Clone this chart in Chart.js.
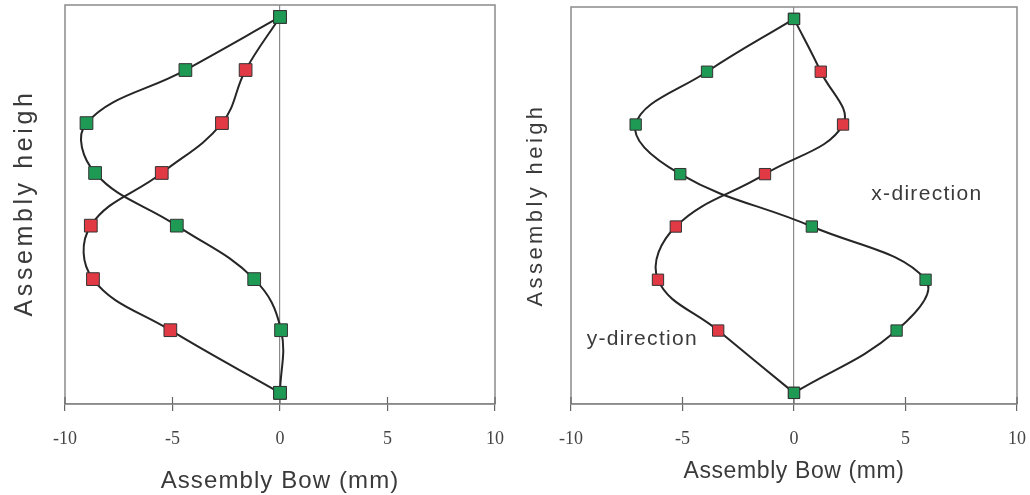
<!DOCTYPE html>
<html>
<head>
<meta charset="utf-8">
<script src="https://cdn.jsdelivr.net/npm/chart.js@4.4.1/dist/chart.umd.min.js"></script>
<style>
  html, body { margin: 0; padding: 0; background: #fff; }
  .wrap { display: flex; width: 1030px; height: 495px; }
</style>
</head>
<body>
<div class="wrap">
  <canvas id="leftChart" width="515" height="495"></canvas>
  <canvas id="rightChart" width="515" height="495"></canvas>
</div>
<script>
// Heights of the measuring points (arbitrary units, top = 100)
const heights = [97, 83.7, 70.4, 57.9, 44.7, 31.3, 18.5, 2.8];

// Left panel bow values (mm)
const leftGreen = [0, -4.4, -9.0, -8.6, -4.8, -1.2, 0.05, 0];
const leftRed = [0, -1.6, -2.7, -5.5, -8.8, -8.7, -5.1, 0];

// Right panel bow values (mm)
const rightGreen = [0, -3.9, -7.1, -5.1, 0.8, 5.9, 4.6, 0];
const rightRed = [0, 1.2, 2.2, -1.3, -5.3, -6.1, -3.4, 0];

const xTicks = [-10, -5, 0, 5, 10];

// text notes in the right panel: [label, x, height]
const rightNotes = [
  ['x-direction', 5.96, 52.9],
  ['y-direction', -6.8, 16.3],
];

const palette = {
  green: '#1f9a55',
  red: '#e23a45',
  marker: '#333333',
  line: '#262626',
  frame: '#8a8a8a',
  text: '#3a3a3a',
};

const sansFont = "'Liberation Sans', Arial, sans-serif";

function toPoints(xs) {
  return xs.map((x, i) => ({ x: x, y: heights[i] }));
}

// gray box round the plot area, crossing tick marks, and the (letter-spaced) titles
const frameAndTitles = {
  id: 'frameAndTitles',
  beforeDatasetsDraw(chart) {
    const { ctx, chartArea } = chart;
    const xs = chart.scales.x;
    ctx.save();
    ctx.strokeStyle = palette.frame;
    ctx.lineWidth = 1.5;
    ctx.strokeRect(chartArea.left, chartArea.top, chartArea.right - chartArea.left, chartArea.bottom - chartArea.top);
    ctx.strokeStyle = '#666';
    ctx.lineWidth = 1.2;
    xTicks.forEach((v) => {
      const px = xs.getPixelForValue(v);
      ctx.beginPath();
      ctx.moveTo(px, chartArea.bottom - 7);
      ctx.lineTo(px, chartArea.bottom);
      ctx.stroke();
    });
    ctx.restore();
  },
  afterDraw(chart) {
    const opts = chart.options.plugins.frameAndTitles;
    const { ctx, chartArea } = chart;
    ctx.save();
    ctx.fillStyle = palette.text;
    ctx.textAlign = 'center';

    // y title, reading bottom to top
    ctx.save();
    ctx.font = opts.ySize + 'px ' + sansFont;
    ctx.letterSpacing = opts.ySpacing + 'px';
    ctx.textBaseline = 'alphabetic';
    ctx.translate(opts.yBaseX, opts.yMid);
    ctx.rotate(-Math.PI / 2);
    ctx.fillText('Assembly heigh', 0, 0);
    ctx.restore();

    // x title
    ctx.font = opts.xSize + 'px ' + sansFont;
    ctx.letterSpacing = opts.xSpacing + 'px';
    ctx.textBaseline = 'alphabetic';
    ctx.fillText('Assembly Bow (mm)', (chartArea.left + chartArea.right) / 2, opts.xBaseY);

    // notes
    ctx.font = '21px ' + sansFont;
    ctx.letterSpacing = '1.3px';
    ctx.textBaseline = 'middle';
    (opts.notes || []).forEach((n) => {
      ctx.fillText(n[0], chart.scales.x.getPixelForValue(n[1]), chart.scales.y.getPixelForValue(n[2]));
    });
    ctx.restore();
  },
};

function makeChart(id, green, red, cfg) {
  const ds = (label, data, color) => ({
    label: label,
    data: toPoints(data),
    showLine: true,
    tension: 0.4,
    borderColor: palette.line,
    borderWidth: 2,
    pointStyle: 'rect',
    pointRadius: cfg.radius,
    pointBackgroundColor: color,
    pointBorderColor: palette.marker,
    pointBorderWidth: 1,
  });
  return new Chart(document.getElementById(id), {
    type: 'scatter',
    data: {
      // first dataset is drawn on top, so the shared end points look green
      datasets: [ds('x-direction', green, palette.green), ds('y-direction', red, palette.red)],
    },
    options: {
      responsive: false,
      animation: false,
      layout: { autoPadding: false, padding: { top: cfg.top, right: cfg.right, bottom: 0, left: 0 } },
      plugins: {
        legend: { display: false },
        tooltip: { enabled: false },
        frameAndTitles: cfg.titles,
      },
      scales: {
        x: {
          type: 'linear',
          min: -10,
          max: 10,
          afterFit: (scale) => {
            scale.height = 91;
            scale.paddingLeft = 0;
            scale.paddingRight = 0;
          },
          afterBuildTicks: (scale) => { scale.ticks = xTicks.map((v) => ({ value: v })); },
          grid: {
            color: (c) => (c.tick && c.tick.value === 0 ? palette.frame : 'transparent'),
            lineWidth: 1.2,
            tickColor: '#666',
            tickLength: 7,
          },
          border: { display: true, color: palette.frame, width: 1.5 },
          ticks: {
            color: '#444',
            padding: 17,
            font: { family: "'Liberation Serif', 'Times New Roman', serif", size: 18 },
          },
          title: { display: false },
        },
        y: {
          type: 'linear',
          min: 0,
          max: 100,
          afterFit: (scale) => {
            scale.width = cfg.yWidth;
            scale.paddingTop = 0;
            scale.paddingBottom = 0;
          },
          grid: { display: false },
          border: { display: false },
          ticks: { display: false },
          title: { display: false },
        },
      },
    },
    plugins: [frameAndTitles],
  });
}

makeChart('leftChart', leftGreen, leftRed, {
  radius: 9, top: 5, right: 20, yWidth: 65,
  titles: { ySize: 25, ySpacing: 3.6, yBaseX: 32, yMid: 203, xSize: 24, xSpacing: 1.1, xBaseY: 488, notes: [] },
});

makeChart('rightChart', rightGreen, rightRed, {
  radius: 8, top: 7, right: 13, yWidth: 56,
  titles: { ySize: 22, ySpacing: 3.4, yBaseX: 27, yMid: 205, xSize: 23, xSpacing: 0.6, xBaseY: 478, notes: rightNotes },
});
</script>
</body>
</html>
